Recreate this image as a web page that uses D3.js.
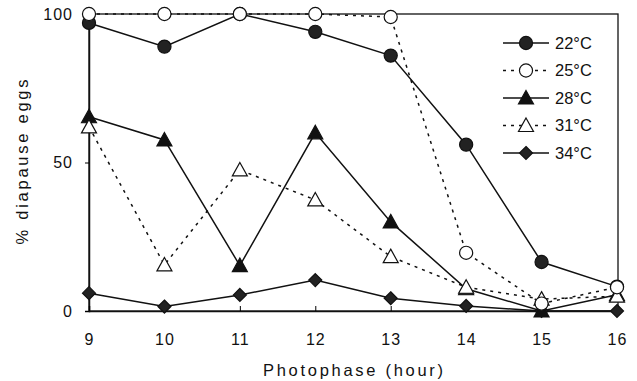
<!DOCTYPE html>
<html><head><meta charset="utf-8">
<script src="https://cdn.jsdelivr.net/npm/d3@7"></script>
<style>body{margin:0;background:#fff}svg{display:block}text{font-family:"Liberation Sans",Arial,sans-serif;fill:#111}</style>
</head><body><svg id="c" width="637" height="381"></svg>
<script>
const hours = [9,10,11,12,13,14,15,16];
const s22 = [97,89,100,94,86,56,16.5,8.2];
const s25 = [100,100,100,100,99,19.6,2.5,8];
const s28 = [65.4,57.6,15.3,60,30,7.5,0,5.5];
const s31 = [62,15.5,47.5,37.4,18.3,8,4,5];
const s34 = [6,1.5,5.4,10.4,4.3,1.7,0,0];
const seriesNames = ["22°C","25°C","28°C","31°C","34°C"];
const yTicks = [0,50,100];

const series = [
  {name:seriesNames[0], v:s22, shape:"circle", fill:"#222", dash:null},
  {name:seriesNames[1], v:s25, shape:"circle", fill:"#fff", dash:"3,5"},
  {name:seriesNames[2], v:s28, shape:"triangle", fill:"#111", dash:null},
  {name:seriesNames[3], v:s31, shape:"triangle", fill:"#fff", dash:"3,5"},
  {name:seriesNames[4], v:s34, shape:"diamond", fill:"#222", dash:null}
];
const svg = d3.select("#c");
const x = d3.scaleLinear().domain([9,16]).range([89,617]);
const y = d3.scaleLinear().domain([0,100]).range([311,14]);

svg.append("rect").attr("x",x(9)).attr("y",y(100)).attr("width",x(16)-x(9)+1).attr("height",y(0)-y(100))
  .attr("fill","none").attr("stroke","#111").attr("stroke-width",1.3);

const ya = svg.append("g").attr("transform",`translate(${x(9)},0)`)
  .call(d3.axisLeft(y).tickValues(yTicks).tickSize(4).tickPadding(12).tickFormat(d3.format("d")));
ya.select(".domain").attr("stroke","#111").attr("stroke-width",1.5);
ya.selectAll("text").style("font-size","16px").attr("letter-spacing","1px");
const xa = svg.append("g").attr("transform",`translate(0,${y(0)})`)
  .call(d3.axisTop(x).tickValues(hours).tickSize(5).tickFormat(d3.format("d")));
xa.select(".domain").attr("stroke","#111").attr("stroke-width",1.5);
xa.selectAll(".tick text").attr("y",28).attr("dy","0.35em").style("font-size","16px").attr("letter-spacing","1px");

svg.append("text").attr("x",353).attr("y",376).attr("text-anchor","middle").style("font-size","16.5px")
  .attr("textLength",180).attr("lengthAdjust","spacing").text("Photophase (hour)");
svg.append("text").attr("transform","translate(28,162) rotate(-90)").attr("text-anchor","middle").style("font-size","16.5px")
  .attr("textLength",165).attr("lengthAdjust","spacing").text("% diapause eggs");

const line = d3.line().x((d,i)=>x(hours[i])).y(d=>y(d));
const symbolPath = {
  circle: d3.symbol(d3.symbolCircle, 135)(),
  triangle: "M0,-7.5L7.5,6L-7.5,6Z",
  diamond: "M0,-6.5L6.5,0L0,6.5L-6.5,0Z"
};
series.forEach(s=>{
  svg.append("path").attr("d",line(s.v)).attr("fill","none").attr("stroke","#111")
    .attr("stroke-width",1.5).attr("stroke-dasharray",s.dash);
});
const order = [4,0,2,3,1];
order.forEach(k=>{
  const s = series[k];
  svg.append("g").selectAll("path").data(s.v).join("path")
    .attr("transform",(d,i)=>`translate(${x(hours[i])},${y(d)})`)
    .attr("d",symbolPath[s.shape]).attr("fill",s.fill).attr("stroke","#111").attr("stroke-width",1.2);
});

const lg = svg.append("g");
series.forEach((s,i)=>{
  const yy = 43 + i*27.5;
  lg.append("line").attr("x1",503).attr("x2",549).attr("y1",yy).attr("y2",yy)
    .attr("stroke","#111").attr("stroke-width",1.5).attr("stroke-dasharray",s.dash);
  lg.append("path").attr("transform",`translate(526,${yy})`).attr("d",symbolPath[s.shape])
    .attr("fill",s.fill).attr("stroke","#111").attr("stroke-width",1.2);
  lg.append("text").attr("x",555).attr("y",yy).attr("dy","0.35em").style("font-size","16.5px").text(s.name);
});
</script></body></html>
